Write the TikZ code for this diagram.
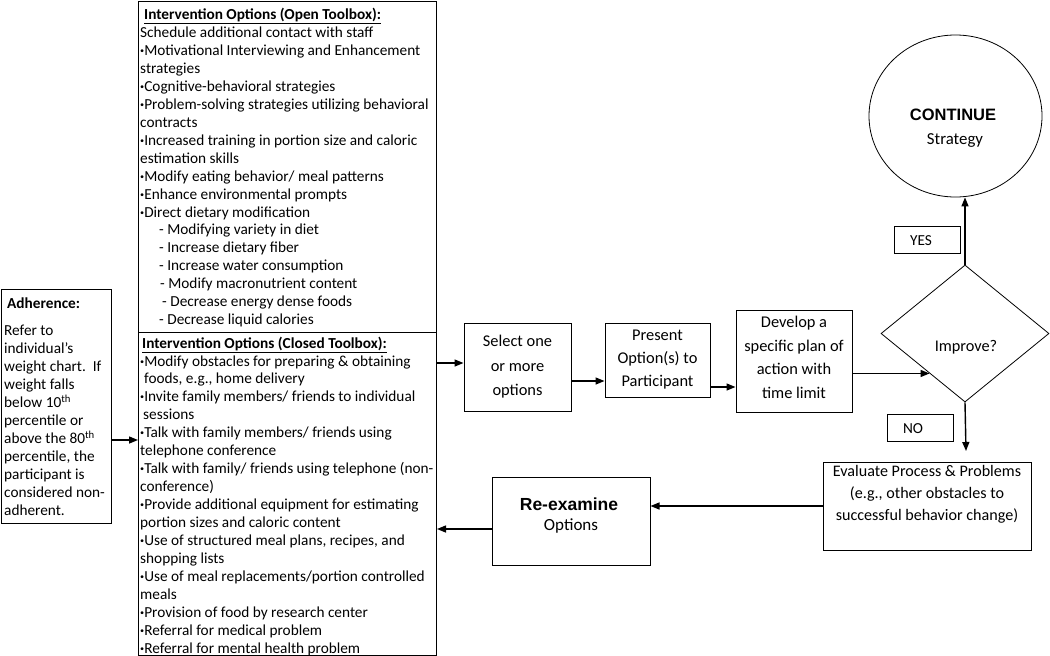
\documentclass[tikz,border=0pt]{standalone}
\usepackage{fontspec}
\usetikzlibrary{arrows.meta,shapes.geometric}
\newfontfamily\calfont{Carlito}
\newfontfamily\arifont{Liberation Sans}
\newcommand\bodyfont{\calfont\fontsize{15.3}{17.95}\selectfont}
\newcommand\bul{\textbf{·}}
\tikzset{
  box/.style={draw, line width=1pt, inner sep=0pt},
  arr/.style={line width=1.4pt, -{Triangle[length=9pt,width=7pt]}},
  txt/.style={font=\bodyfont, align=left, inner sep=0pt, anchor=north west},
  ctxt/.style={align=center, inner sep=0pt},
}
\begin{document}
\begin{tikzpicture}[x=1pt,y=-1pt]
\useasboundingbox (0,0) rectangle (1050,656);

% toolbox
\node[box, minimum width=298, minimum height=331, anchor=north west] (open) at (138,1) {};
\node[box, minimum width=298, minimum height=323, anchor=north west] (closed) at (138,332) {};
\node[txt] (opentxt) at (140,8) {%
\hspace*{4pt}\underline{\textbf{Intervention Options (Open Toolbox):}}\\
Schedule additional contact with staff\\
\bul Motivational Interviewing and Enhancement\\
strategies\\
\bul Cognitive-behavioral strategies\\
\bul Problem-solving strategies utilizing behavioral\\
contracts\\
\bul Increased training in portion size and caloric\\
estimation skills\\
\bul Modify eating behavior/ meal patterns\\
\bul Enhance environmental prompts\\
\bul Direct dietary modification\\
\hspace*{19pt}- Modifying variety in diet\\
\hspace*{19pt}- Increase dietary fiber\\
\hspace*{19pt}- Increase water consumption\\
\hspace*{20pt}- Modify macronutrient content\\
\hspace*{22pt}- Decrease energy dense foods\\
\hspace*{19pt}- Decrease liquid calories};
\node[txt] (closedtxt) at (140,336.5) {%
\hspace*{2pt}\underline{\textbf{Intervention Options (Closed Toolbox):}}\\
\bul Modify obstacles for preparing \& obtaining\\
\hspace*{4pt}foods, e.g., home delivery\\
\bul Invite family members/ friends to individual\\
\hspace*{3pt}sessions\\
\bul Talk with family members/ friends using\\
telephone conference\\
\bul Talk with family/ friends using telephone (non-\\
conference)\\
\bul Provide additional equipment for estimating\\
portion sizes and caloric content\\
\bul Use of structured meal plans, recipes, and\\
shopping lists\\
\bul Use of meal replacements/portion controlled\\
meals\\
\bul Provision of food by research center\\
\bul Referral for medical problem\\
\bul Referral for mental health problem};

% adherence
\node[box, minimum width=110, minimum height=234, anchor=north west] (adh) at (1,289) {};
\node[txt] (adhtxt) at (4,298) {%
\hspace*{3pt}\textbf{Adherence:}\\[9pt]
Refer to\\
individual’s\\
weight chart.\ \ If\\
weight falls\\
below 10\textsuperscript{th}\\
percentile or\\
above the 80\textsuperscript{th}\\
percentile, the\\
participant is\\
considered non-\\
adherent.};

% process boxes
\node[box, ctxt, font=\calfont\fontsize{16.4}{24.5}\selectfont, minimum width=107, minimum height=88] (sel) at (517.5,367) {Select one\\or more\\options};
\node[box, ctxt, font=\calfont\fontsize{16.4}{23}\selectfont, minimum width=105, minimum height=74] (pre) at (657.5,360) {Present\\Option(s) to\\Participant};
\node[box, minimum width=116, minimum height=102] (dev) at (794,361) {};
\node[ctxt, font=\calfont\fontsize{16.4}{23.7}\selectfont] (devtxt) at (794,357.5) {Develop a\\specific plan of\\action with\\time limit};

% decision
\node[draw, line width=0.8pt, diamond, minimum width=168, minimum height=137, inner sep=0pt] (dia) at (965,333.5) {};
\node[ctxt, font=\calfont\fontsize{16.3}{18}\selectfont] (diatxt) at (966,347) {Improve?};
\node[draw, line width=0.8pt, ellipse, minimum width=173, minimum height=162, inner sep=0pt] (cont) at (955.5,116) {};
\node[ctxt, font=\arifont\bfseries\fontsize{16.5}{18}\selectfont] (conttxt1) at (953,115) {CONTINUE};
\node[ctxt, font=\calfont\fontsize{16.8}{18}\selectfont] (conttxt2) at (955,140) {Strategy};

\node[box, minimum width=66, minimum height=27] (yes) at (927,239.5) {};
\node[ctxt, font=\bodyfont] (yestxt) at (921,241) {YES};
\node[box, minimum width=66, minimum height=27] (no) at (920,427.5) {};
\node[ctxt, font=\bodyfont] (notxt) at (913,429) {NO};

% evaluate / re-examine
\node[box, minimum width=208, minimum height=88] (eva) at (927,506) {};
\node[ctxt, font=\calfont\fontsize{16.1}{22}\selectfont] (evatxt) at (927,494) {Evaluate Process \& Problems\\(e.g., other obstacles to\\successful behavior change)};
\node[box, minimum width=158, minimum height=88] (rex) at (571,521) {};
\node[ctxt, font=\arifont\bfseries\fontsize{17.5}{18}\selectfont] (rextxt1) at (569,504) {Re-examine};
\node[ctxt, font=\calfont\fontsize{17}{18}\selectfont] (rextxt2) at (571,526) {Options};

% connectors
\draw[arr] (adh.east |- 0,440) -- (open.west |- 0,440);
\draw[arr] (open.east |- 0,363) -- (sel.west |- 0,363);
\draw[arr] (sel.east |- 0,381) -- (pre.west |- 0,381);
\draw[arr] (pre.east |- 0,387) -- (dev.west |- 0,387);
\path (dia.west) -- (dia.south) coordinate[pos=0.58] (dk);
\draw[arr] (dk -| dev.east) -- (dk);
\draw[arr] (dia.north) -- (dia.north |- cont.south);
\coordinate (noend) at (966,451);
\draw[arr] (dia.south) -- (noend);
\draw[arr] (eva.west) -- (eva.west -| rex.east);
\draw[arr] (rex.west |- 0,529) -- (closed.east |- 0,529);
\end{tikzpicture}
\end{document}
